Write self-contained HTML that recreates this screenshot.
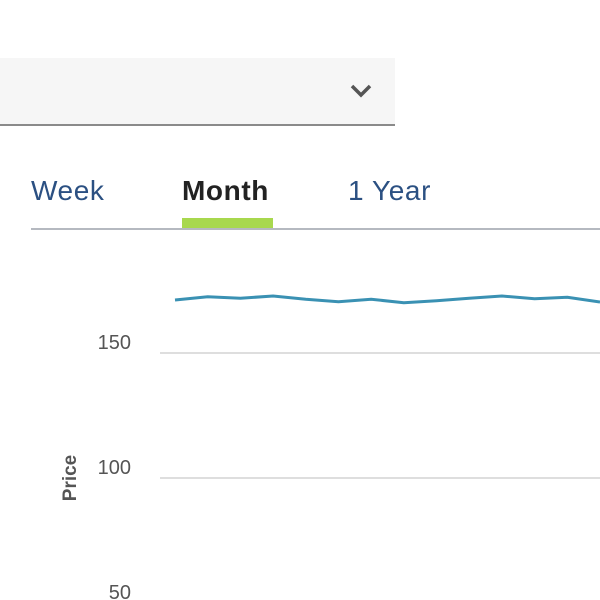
<!DOCTYPE html>
<html><head><meta charset="utf-8"><style>
body{margin:0;width:600px;height:600px;overflow:hidden;background:#fff;font-family:"Liberation Sans",sans-serif;position:relative}
.dd{position:absolute;left:0;top:58px;width:395px;height:66px;background:#f6f6f6;border-bottom:2px solid #8a8a8a}
.tab{position:absolute;top:175px;font-size:28px;color:#2b5082;letter-spacing:0.6px}
</style></head><body>
<div class="dd">
<svg style="position:absolute;left:350px;top:25px" width="22" height="16"><polyline points="2,3 11,12 20,3" fill="none" stroke="#555" stroke-width="3.5"/></svg>
</div>
<div class="tab" style="left:31px">Week</div>
<div class="tab" style="left:182px;color:#222;font-weight:bold">Month</div>
<div class="tab" style="left:348px">1 Year</div>
<div style="position:absolute;left:31px;top:228px;width:569px;height:2px;background:#b5b9c0"></div>
<div style="position:absolute;left:182px;top:218px;width:91px;height:10px;background:#a8d84e"></div>
<svg id="c" width="600" height="600" style="position:absolute;left:0;top:0"></svg>
<script>
const ticks=[150,100,50];
const values=[171.2,172.5,171.9,172.8,171.5,170.5,171.5,170.1,170.9,171.9,172.8,171.7,172.3,170.4];
const days=values.map((v,i)=>i);
const y=v=>353+(150-v)*2.5;
const x=i=>175+i*(425/(values.length-1));
const svg=document.getElementById('c');
const NS='http://www.w3.org/2000/svg';
ticks.forEach(t=>{
 const l=document.createElementNS(NS,'line');
 
 
 l.setAttribute('x1',160);l.setAttribute('x2',600);l.setAttribute('y1',y(t));l.setAttribute('y2',y(t));
 l.setAttribute('stroke','#d4d4d4');l.setAttribute('stroke-width','1.5');svg.appendChild(l);
 const tx=document.createElementNS(NS,'text');
 
 
 tx.setAttribute('x',131);tx.setAttribute('y',y(t)-4);tx.setAttribute('text-anchor','end');
 tx.setAttribute('font-size','20');tx.setAttribute('fill','#555');tx.textContent=t;svg.appendChild(tx);
});
const yt=document.createElementNS(NS,'text');


yt.setAttribute('transform','translate(76,478) rotate(-90)');yt.setAttribute('text-anchor','middle');
yt.setAttribute('font-size','19');yt.setAttribute('font-weight','bold');yt.setAttribute('fill','#555');yt.textContent='Price';svg.appendChild(yt);
const p=document.createElementNS(NS,'polyline');


p.setAttribute('points',days.map(i=>x(i)+','+y(values[i])).join(' '));
p.setAttribute('fill','none');p.setAttribute('stroke','#3a91b3');p.setAttribute('stroke-width','3');svg.appendChild(p);
</script>
</body></html>
